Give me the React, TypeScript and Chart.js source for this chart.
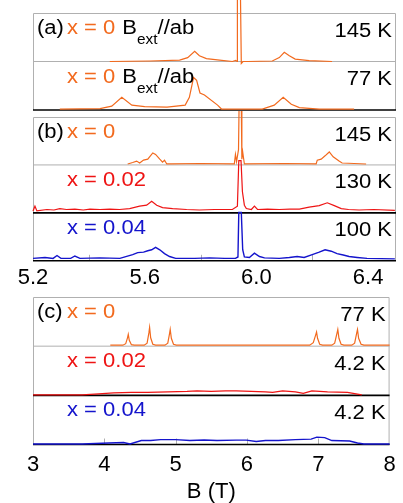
import React, { useEffect, useRef } from "react";
import { Chart, registerables } from "chart.js";
Chart.register(...registerables);

const FONT = "'Liberation Sans', Arial, Helvetica, sans-serif";
const ORANGE = "#F26A1E";
const RED = "#EE1414";
const BLUE = "#1414CC";
const GRAY = "#b0b0b0";
const BLACK = "#000000";

type Pt = [number, number];

// ---------- Panel (a): B (T) vs. relative intensity ----------
const a145K: Pt[] = [
  [5.475, 0], [5.62, 0.01], [5.725, 0.03], [5.754, 0.08], [5.779, 0.21], [5.796, 0.12],
  [5.821, 0.06], [5.868, 0.03], [5.914, 0], [5.926, 0.02], [5.931, 0], [5.932, 1.35],
  [5.943, 1.35], [5.946, -0.04], [5.952, 0], [5.968, 0], [6.057, 0.01], [6.082, 0.08],
  [6.1, 0.19], [6.118, 0.12], [6.139, 0.05], [6.189, 0.02], [6.271, 0],
];
const a77K: Pt[] = [
  [5.296, 0], [5.44, 0.01], [5.482, 0.06], [5.518, 0.24], [5.554, 0.08], [5.6, 0.05],
  [5.68, 0.04], [5.745, 0.08], [5.76, 0.24], [5.775, 0.65], [5.786, 0.59], [5.798, 0.33],
  [5.814, 0.29], [5.861, 0.08], [5.875, 0], [6.021, 0], [6.064, 0.08], [6.096, 0.24],
  [6.125, 0.1], [6.154, 0.03], [6.225, 0], [6.35, 0],
];

// ---------- Panel (b) ----------
const b145K: Pt[] = [
  [5.539, 0], [5.557, 0.03], [5.571, 0.06], [5.582, 0.02], [5.596, 0.08], [5.611, 0.1],
  [5.629, 0.23], [5.639, 0.2], [5.654, 0.1], [5.664, 0.04], [5.671, 0.08], [5.679, 0],
  [5.696, 0], [5.8, 0.01], [5.921, 0], [5.925, 0.2], [5.929, 0.05], [5.936, 0.3],
  [5.938, 1.2], [5.946, 1.2], [5.948, 0.1], [5.951, 0.25], [5.957, 0], [6.1, 0.01],
  [6.214, 0], [6.218, 0.08], [6.232, 0.1], [6.246, 0.17], [6.261, 0.25], [6.275, 0.15],
  [6.296, 0.06], [6.307, 0.02], [6.393, 0],
];
const b130K: Pt[] = [
  [5.2, 0], [5.207, 0.1], [5.214, 0], [5.25, 0.03], [5.275, 0.02], [5.296, 0.05],
  [5.32, 0.03], [5.35, 0.04], [5.38, 0.02], [5.404, 0.04], [5.44, 0.03], [5.475, 0.04],
  [5.51, 0.03], [5.546, 0.05], [5.582, 0.1], [5.607, 0.12], [5.625, 0.2], [5.643, 0.12],
  [5.664, 0.07], [5.7, 0.05], [5.75, 0.03], [5.796, 0.02], [5.85, 0.03], [5.914, 0.03],
  [5.932, 0.1], [5.937, 1.05], [5.945, 1.05], [5.95, 0.4], [5.957, 0.12], [5.964, 0.05],
  [5.982, 0.03], [5.993, 0.1], [6.004, 0.03], [6.04, 0.04], [6.082, 0.03], [6.12, 0.04],
  [6.154, 0.04], [6.189, 0.08], [6.225, 0.11], [6.254, 0.17], [6.279, 0.11], [6.304, 0.05],
  [6.33, 0.03], [6.368, 0.02], [6.42, 0.03], [6.496, 0.01],
];
const b100K: Pt[] = [
  [5.2, 0.02], [5.243, 0.04], [5.272, 0.02], [5.286, 0.08], [5.3, 0.02], [5.335, 0.02],
  [5.35, 0.07], [5.368, 0.02], [5.439, 0.03], [5.511, 0.02], [5.557, 0.1], [5.575, 0.14],
  [5.596, 0.15], [5.611, 0.18], [5.625, 0.2], [5.639, 0.25], [5.654, 0.2], [5.671, 0.12],
  [5.689, 0.06], [5.711, 0.02], [5.779, 0.02], [5.832, 0.03], [5.886, 0.02], [5.925, 0.02],
  [5.934, 0.05], [5.937, 0.98], [5.946, 0.98], [5.951, 0.2], [5.957, 0.05], [5.975, 0.04],
  [5.993, 0.13], [6.011, 0.06], [6.029, 0.03], [6.082, 0.02], [6.118, 0.04], [6.146, 0.06],
  [6.171, 0.04], [6.2, 0.1], [6.225, 0.15], [6.246, 0.2], [6.268, 0.17], [6.289, 0.12],
  [6.311, 0.09], [6.332, 0.06], [6.361, 0.04], [6.396, 0.02], [6.496, 0.01],
];

// ---------- Panel (c) ----------
const c77K: Pt[] = [
  [4.084, 0], [4.26, 0], [4.3, 0.03], [4.325, 0.15], [4.336, 0.22], [4.35, 0.1], [4.38, 0.01], [4.42, 0],
  [4.56, 0], [4.6, 0.04], [4.625, 0.25], [4.635, 0.36], [4.65, 0.15], [4.68, 0.02], [4.72, 0],
  [4.85, 0], [4.89, 0.04], [4.914, 0.23], [4.924, 0.32], [4.94, 0.14], [4.97, 0.02], [5.01, 0],
  [6.88, 0], [6.93, 0.05], [6.962, 0.2], [6.976, 0.27], [6.99, 0.14], [7.02, 0.02], [7.06, 0],
  [7.19, 0], [7.23, 0.04], [7.262, 0.24], [7.274, 0.32], [7.29, 0.14], [7.32, 0.02], [7.36, 0],
  [7.47, 0], [7.51, 0.04], [7.538, 0.24], [7.55, 0.32], [7.566, 0.14], [7.6, 0.02], [7.64, 0],
  [8.0, 0],
];
const c42Kx02: Pt[] = [
  [3.0, 0], [3.69, 0], [3.92, 0.02], [4.13, 0.04], [4.38, 0.05], [4.61, 0.05], [4.89, 0.06],
  [5.16, 0.07], [5.3, 0.08], [5.5, 0.07], [5.7, 0.08], [5.85, 0.08], [6.06, 0.07], [6.26, 0.06],
  [6.36, 0.05], [6.5, 0.08], [6.68, 0.06], [6.79, 0.03], [6.91, 0.08], [7.13, 0.06], [7.41, 0.05],
  [7.61, 0],
];
const c42Kx04: Pt[] = [
  [3.0, 0], [3.69, 0], [4.06, 0.02], [4.27, 0.03], [4.36, 0], [4.52, 0.07], [4.65, 0.07],
  [4.79, 0.09], [5.0, 0.09], [5.2, 0.07], [5.4, 0.08], [5.58, 0.07], [5.85, 0.08], [5.99, 0.08],
  [6.13, 0.05], [6.26, 0.07], [6.44, 0.07], [6.68, 0.09], [6.9, 0.1], [6.98, 0.14], [7.09, 0.13],
  [7.19, 0.07], [7.44, 0.06], [7.55, 0.02], [7.64, 0], [8.0, 0],
];

// ---------- Axes ----------
const bTicks = [5.2, 5.6, 6.0, 6.4];
const bMinor = [5.4, 5.8, 6.2];
const cTicks = [3, 4, 5, 6, 7, 8];
const cMinor = [4, 5, 6, 7];

type Part = { t: string; c: string; sub?: boolean };
type Row = { data: Pt[]; color: string; width: number; lift: number; left: Part[]; right: string; sep: string };
type Panel = {
  tag: string; min: number; max: number; ticks: number[] | null; decimals: number; minor: number[];
  title: string | null; rows: Row[]; top: number; height: number; padTop: number; padBottom: number; tickPad: number;
};

const bext = (c: string): Part[] => [
  { t: "x = 0", c },
  { t: "B", c: BLACK },
  { t: "ext", c: BLACK, sub: true },
  { t: "//ab", c: BLACK },
];

const panels: Panel[] = [
  {
    tag: "(a)", min: 5.2, max: 6.5, ticks: null, decimals: 1, minor: [], title: null,
    top: 0, height: 112, padTop: 13, padBottom: 2, tickPad: 0,
    rows: [
      { data: a145K, color: ORANGE, width: 1.2, lift: 0, left: bext(ORANGE), right: "145 K", sep: GRAY },
      { data: a77K, color: ORANGE, width: 1.2, lift: 0.02, left: bext(ORANGE), right: "77 K", sep: BLACK },
    ],
  },
  {
    tag: "(b)", min: 5.2, max: 6.5, ticks: bTicks, decimals: 1, minor: bMinor, title: null,
    top: 111, height: 185, padTop: 6, padBottom: 0, tickPad: 4.4,
    rows: [
      { data: b145K, color: ORANGE, width: 1.2, lift: 0.02, left: [{ t: "x = 0", c: ORANGE }], right: "145 K", sep: GRAY },
      { data: b130K, color: RED, width: 1.2, lift: 0.04, left: [{ t: "x = 0.02", c: RED }], right: "130 K", sep: BLACK },
      { data: b100K, color: BLUE, width: 1.4, lift: 0.03, left: [{ t: "x = 0.04", c: BLUE }], right: "100 K", sep: BLACK },
    ],
  },
  {
    tag: "(c)", min: 3, max: 8, ticks: cTicks, decimals: 0, minor: cMinor, title: "B (T)",
    top: 290, height: 213, padTop: 7, padBottom: 0, tickPad: 7.3,
    rows: [
      { data: c77K, color: ORANGE, width: 1.2, lift: 0.02, left: [{ t: "x = 0", c: ORANGE }], right: "77 K", sep: GRAY },
      { data: c42Kx02, color: RED, width: 1.2, lift: 0.01, left: [{ t: "x = 0.02", c: RED }], right: "4.2 K", sep: BLACK },
      { data: c42Kx04, color: BLUE, width: 1.4, lift: 0.01, left: [{ t: "x = 0.04", c: BLUE }], right: "4.2 K", sep: BLACK },
    ],
  },
];

const STRETCH = 1.1;
function stretchedText(ctx: CanvasRenderingContext2D, text: string, x: number, y: number, align: CanvasTextAlign) {
  ctx.save();
  ctx.translate(x, y);
  ctx.scale(STRETCH, 1);
  ctx.textAlign = align;
  ctx.textBaseline = "alphabetic";
  ctx.fillText(text, 0, 0);
  const w = ctx.measureText(text).width * STRETCH;
  ctx.restore();
  return w;
}

function makeDecor(panel: Panel) {
  const n = panel.rows.length;
  return {
    id: "decor",
    beforeDatasetsDraw(chart: any) {
      const { ctx, chartArea: ca, scales } = chart;
      const x = scales.x, y = scales.y;
      ctx.save();
      ctx.lineWidth = 1;
      ctx.strokeStyle = GRAY;
      ctx.beginPath();
      ctx.moveTo(ca.left + 0.5, ca.bottom);
      ctx.lineTo(ca.left + 0.5, ca.top + 0.5);
      ctx.lineTo(ca.right - 0.5, ca.top + 0.5);
      ctx.lineTo(ca.right - 0.5, ca.bottom);
      panel.minor.forEach((v) => {
        const px = Math.round(x.getPixelForValue(v)) + 0.5;
        ctx.moveTo(px, ca.bottom);
        ctx.lineTo(px, ca.bottom - 6);
      });
      ctx.stroke();
      panel.rows.forEach((r, i) => {
        const py = y.getPixelForValue(n - 1 - i);
        ctx.beginPath();
        ctx.strokeStyle = r.sep;
        ctx.lineWidth = r.sep === BLACK ? 1.6 : 1;
        ctx.moveTo(ca.left, py);
        ctx.lineTo(ca.right, py);
        ctx.stroke();
      });
      ctx.restore();
    },
    afterDatasetsDraw(chart: any) {
      const { ctx, chartArea: ca, scales } = chart;
      const y = scales.y;
      ctx.save();
      panel.rows.forEach((r, i) => {
        const rowTop = y.getPixelForValue(n - i);
        const base = rowTop + 21;
        if (i === 0) {
          ctx.fillStyle = BLACK;
          ctx.font = `20px ${FONT}`;
          stretchedText(ctx, panel.tag, ca.left + 4, base, "left");
        }
        let cx = ca.left + 34;
        r.left.forEach((p, k) => {
          ctx.fillStyle = p.c;
          if (p.sub) {
            ctx.font = `14px ${FONT}`;
            cx += stretchedText(ctx, p.t, cx, base + 10, "left");
          } else {
            ctx.font = `20px ${FONT}`;
            if (k > 0 && !r.left[k - 1].sub) cx += 7;
            cx += stretchedText(ctx, p.t, cx, base, "left");
          }
        });
        ctx.fillStyle = BLACK;
        ctx.font = `20px ${FONT}`;
        stretchedText(ctx, r.right, ca.right - 4, rowTop + 23.5, "right");
      });
      ctx.restore();
    },
  };
}

function PanelChart({ panel }: { panel: Panel }) {
  const ref = useRef<HTMLCanvasElement>(null);
  useEffect(() => {
    if (!ref.current) return;
    const n = panel.rows.length;
    const datasets = panel.rows.map((r, i) => ({
      data: r.data.map(([b, v]) => ({ x: b, y: n - 1 - i + r.lift + v })),
      borderColor: r.color,
      borderWidth: r.width,
      pointRadius: 0,
      tension: 0,
      fill: false,
      clip: false as any,
    }));
    const showX = panel.ticks !== null;
    const chart = new Chart(ref.current, {
      type: "line",
      data: { datasets },
      plugins: [makeDecor(panel)],
      options: {
        animation: false,
        responsive: false,
        events: [],
        layout: { padding: { left: 33, right: 7, top: panel.padTop, bottom: panel.padBottom } },
        plugins: { legend: { display: false }, tooltip: { enabled: false } },
        scales: {
          x: {
            type: "linear",
            min: panel.min,
            max: panel.max,
            display: showX,
            grid: { display: false, drawTicks: false },
            border: { display: false },
            afterBuildTicks: (axis: any) => {
              if (panel.ticks) axis.ticks = panel.ticks.map((v) => ({ value: v }));
            },
            ticks: {
              autoSkip: false,
              maxRotation: 0,
              padding: panel.tickPad,
              color: BLACK,
              font: { size: 22, family: FONT },
              callback: (v: any) => Number(v).toFixed(panel.decimals),
            },
            title: {
              display: !!panel.title,
              text: panel.title || "",
              color: BLACK,
              font: { size: 22, family: FONT, lineHeight: 1 },
              padding: { top: -4.5, bottom: 0 },
            },
          },
          y: { type: "linear", min: 0, max: n, display: false },
        },
      },
    });
    return () => chart.destroy();
  }, [panel]);
  return (
    <canvas
      ref={ref}
      width={403}
      height={panel.height}
      style={{ position: "absolute", left: 0, top: panel.top, width: 403, height: panel.height, display: "block" }}
    />
  );
}

export default function App() {
  return (
    <div style={{ position: "fixed", left: 0, top: 0, width: 403, height: 503, background: "#fff", overflow: "hidden" }}>
      {panels.map((p) => (
        <PanelChart key={p.tag} panel={p} />
      ))}
    </div>
  );
}
